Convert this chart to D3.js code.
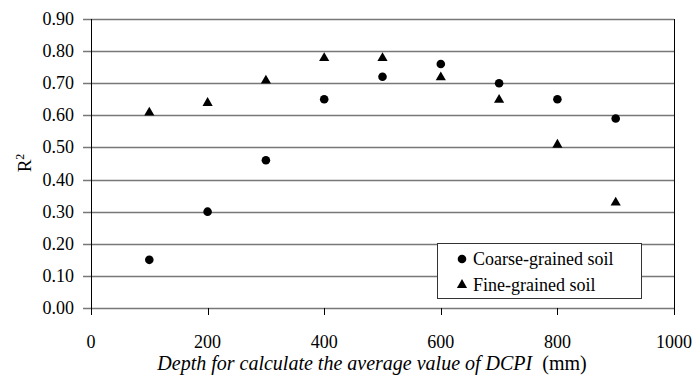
<!DOCTYPE html>
<html>
<head>
<meta charset="utf-8">
<script src="https://cdn.jsdelivr.net/npm/d3@7"></script>
<style>
  body { margin: 0; background: #fff; }
  text { font-family: "Liberation Serif", "Times New Roman", serif; fill: #000; }
</style>
</head>
<body>
<div id="chart"></div>
<script>
var depths = [100, 200, 300, 400, 500, 600, 700, 800, 900];
var coarse = [0.15, 0.30, 0.46, 0.65, 0.72, 0.76, 0.70, 0.65, 0.59];
var fine = [0.61, 0.64, 0.71, 0.78, 0.78, 0.72, 0.65, 0.51, 0.33];
var xTicks = [0, 200, 400, 600, 800, 1000];
var yTicks = [0, 0.1, 0.2, 0.3, 0.4, 0.5, 0.6, 0.7, 0.8, 0.9];
var seriesNames = ["Coarse-grained soil", "Fine-grained soil"];

function init() {
    var w = 696, h = 376;
    var pLeft = 91, pRight = 674, pTop = 19, pBottom = 308;

    var svg = d3.select("#chart").append("svg")
        .attr("width", w)
        .attr("height", h);

    var x = d3.scaleLinear().domain([0, 1000]).range([pLeft, pRight]);
    var y = d3.scaleLinear().domain([0, 0.9]).range([pBottom, pTop]);

    // horizontal gridlines (start at the tick, left of the axis)
    svg.selectAll(".grid")
        .data(yTicks)
        .enter()
        .append("line")
        .attr("x1", pLeft - 8)
        .attr("x2", pRight)
        .attr("y1", function(d) { return Math.round(y(d)) + 0.5; })
        .attr("y2", function(d) { return Math.round(y(d)) + 0.5; })
        .attr("stroke", "#777")
        .attr("stroke-width", 1.6);

    // y axis labels
    svg.selectAll(".ylab")
        .data(yTicks)
        .enter()
        .append("text")
        .attr("x", pLeft - 17)
        .attr("y", function(d) { return y(d) + 6; })
        .attr("text-anchor", "end")
        .style("font-size", "18px")
        .text(function(d) { return d.toFixed(2); });

    // x ticks going down from the bottom line
    svg.selectAll(".xtick")
        .data(xTicks)
        .enter()
        .append("line")
        .attr("x1", function(d) { return Math.round(x(d)) + 0.5; })
        .attr("x2", function(d) { return Math.round(x(d)) + 0.5; })
        .attr("y1", pBottom)
        .attr("y2", pBottom + 7)
        .attr("stroke", "#000")
        .attr("stroke-width", 1);

    svg.selectAll(".xlab")
        .data(xTicks)
        .enter()
        .append("text")
        .attr("x", function(d) { return x(d); })
        .attr("y", 348)
        .attr("text-anchor", "middle")
        .style("font-size", "18px")
        .text(function(d) { return d; });

    // left axis + right border
    svg.append("line")
        .attr("x1", pLeft + 0.5).attr("x2", pLeft + 0.5)
        .attr("y1", pTop).attr("y2", pBottom + 7)
        .attr("stroke", "#000");
    svg.append("line")
        .attr("x1", pRight + 0.5).attr("x2", pRight + 0.5)
        .attr("y1", pTop).attr("y2", pBottom + 7)
        .attr("stroke", "#000");

    var triangle = d3.symbol().type(d3.symbolTriangle).size(45);

    // coarse-grained points
    svg.selectAll(".coarse")
        .data(coarse)
        .enter()
        .append("circle")
        .attr("cx", function(d, i) { return x(depths[i]); })
        .attr("cy", function(d) { return y(d); })
        .attr("r", 4.3)
        .attr("fill", "#000");

    // fine-grained points
    svg.selectAll(".fine")
        .data(fine)
        .enter()
        .append("path")
        .attr("d", triangle)
        .attr("transform", function(d, i) {
            return "translate(" + x(depths[i]) + "," + (y(d) + 0.5) + ")";
        })
        .attr("fill", "#000");

    // legend
    var lg = svg.append("g");
    lg.append("rect")
        .attr("x", 437.5).attr("y", 243.5)
        .attr("width", 204).attr("height", 55)
        .attr("fill", "#fff")
        .attr("stroke", "#333");
    lg.append("circle")
        .attr("cx", 462).attr("cy", 259).attr("r", 4.3).attr("fill", "#000");
    lg.append("path")
        .attr("d", triangle)
        .attr("transform", "translate(462,285)")
        .attr("fill", "#000");
    lg.selectAll(".ltxt")
        .data(seriesNames)
        .enter()
        .append("text")
        .attr("x", 473)
        .attr("y", function(d, i) { return 265 + i * 26; })
        .style("font-size", "18px")
        .text(function(d) { return d; });

    // axis titles
    var xt = svg.append("text")
        .attr("x", 372)
        .attr("y", 370)
        .attr("text-anchor", "middle")
        .style("font-size", "20px");
    xt.append("tspan").style("font-style", "italic")
        .text("Depth for calculate the average value of DCPI");
    xt.append("tspan").text("\u00a0 (mm)");

    var yt = svg.append("text")
        .attr("transform", "translate(31,163) rotate(-90)")
        .attr("text-anchor", "middle")
        .style("font-size", "19px");
    yt.append("tspan").text("R");
    yt.append("tspan").attr("dy", -7).style("font-size", "12px").text("2");
}
init();
</script>
</body>
</html>
